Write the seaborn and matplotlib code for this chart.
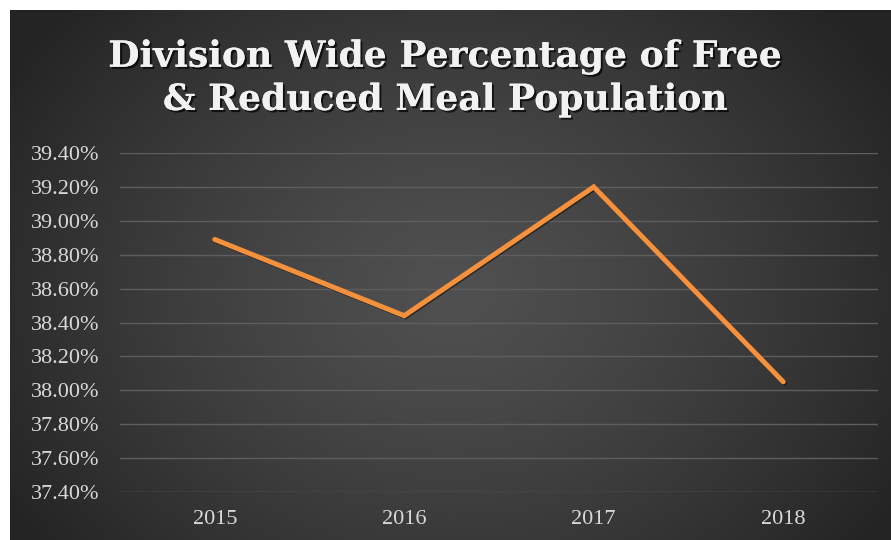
import numpy as np
import pandas as pd
import matplotlib
matplotlib.use("Agg")
import matplotlib.pyplot as plt
import matplotlib.patheffects as pe
import seaborn as sns

years = ["2015", "2016", "2017", "2018"]
values = [38.89, 38.44, 39.20, 38.05]
yticks = [37.4, 37.6, 37.8, 38.0, 38.2, 38.4, 38.6, 38.8, 39.0, 39.2, 39.4]
title_lines = ["Division Wide Percentage of Free", "& Reduced Meal Population"]

sns.set_theme(style="dark")
plt.rcParams['font.family'] = ['Liberation Serif', 'DejaVu Serif']

W, H = 891, 540
fig = plt.figure(figsize=(W / 100, H / 100), dpi=100, facecolor="white")

# gradient background panel
bg = fig.add_axes([10 / W, 0, 1 - 10 / W, 1 - 10 / H])
bg.set_axis_off()
ny, nx = 530, 881
yy, xx = np.mgrid[0:ny, 0:nx]
cx, cy = 440, 280
r = np.sqrt(((xx - cx) / 520) ** 2 + ((yy - cy) / 420) ** 2)
r = np.clip(r, 0, 1)
val = 80 - (80 - 36) * r ** 1.3
img = np.dstack([val, val, val]) / 255.0
bg.imshow(img, aspect="auto", extent=[0, 1, 0, 1], origin="upper")
bg.set_xlim(0, 1)
bg.set_ylim(0, 1)

ax = fig.add_axes([120 / W, 1 - 492 / H, (878 - 120) / W, (492 - 153) / H])
ax.patch.set_alpha(0)
df = pd.DataFrame({"year": years, "value": values})
sns.lineplot(data=df, x="year", y="value", ax=ax, color="#f5913c", linewidth=3.6,
             solid_capstyle="round", solid_joinstyle="miter", sort=False,
             path_effects=[pe.SimpleLineShadow(offset=(0.8, -0.8), shadow_color="black", alpha=0.5),
                           pe.Normal()])
ax.set_xlim(-0.5, 3.5)
ax.set_ylim(37.4, 39.4)
ax.set_yticks(yticks)
ax.set_yticklabels([f"{v:.2f}%" for v in yticks])
ax.yaxis.grid(True, color="#5e5e5e", linewidth=1.0)
ax.xaxis.grid(False)
for s in ax.spines.values():
    s.set_visible(False)
ax.tick_params(axis="both", colors="#d9d9d9", labelsize=16, length=0)
ax.tick_params(axis="y", pad=15)
ax.tick_params(axis="x", pad=13)
ax.set_xlabel("")
ax.set_ylabel("")

shadow = [pe.withSimplePatchShadow(offset=(1.5, -1.5), shadow_rgbFace="black", alpha=0.7), pe.Normal()]
for line, ypx in zip(title_lines, [57, 100]):
    fig.text(0.5, 1 - ypx / H, line, ha="center", va="center", color="#f2f2f2",
             fontsize=26, fontweight="bold", family=["DejaVu Serif"],
             path_effects=shadow)

fig.savefig("out.png", dpi=100, facecolor="white")
